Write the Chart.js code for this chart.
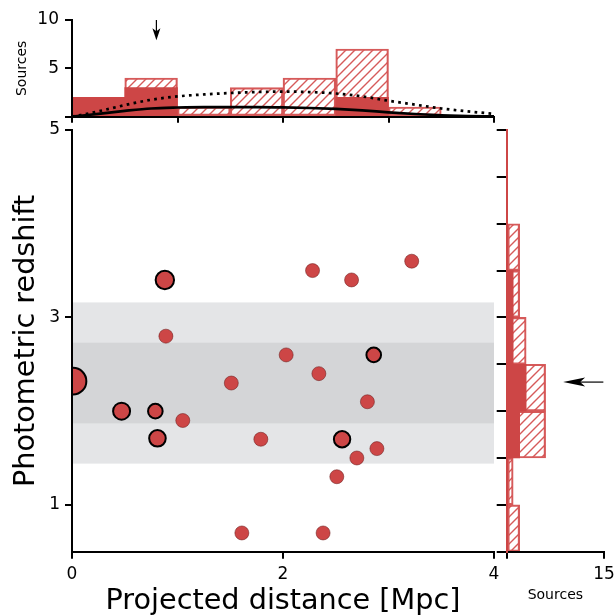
<!DOCTYPE html>
<html><head><meta charset="utf-8">
<script src="https://cdn.jsdelivr.net/npm/chart.js@4.4.0/dist/chart.umd.min.js"></script>
<style>
html,body{margin:0;padding:0;background:#fff;width:615px;height:615px;overflow:hidden}
canvas{position:absolute;left:0;top:0}
</style></head>
<body>
<canvas id="main" width="615" height="615"></canvas>
<canvas id="top" width="615" height="615"></canvas>
<canvas id="right" width="615" height="615"></canvas>
<script>
// ---- data ----
// sources with black outline (selected)
const selDist = [0.88, 2.86, 0.01, 0.47, 0.79, 0.81, 2.56];
const selZ    = [3.40, 2.60, 2.32, 2.00, 2.00, 1.71, 1.70];
// other sources
const othDist = [2.28, 2.65, 3.22, 0.89, 2.03, 1.51, 2.34, 2.80, 1.05, 1.79, 2.89, 2.70, 2.51, 1.61, 2.38];
const othZ    = [3.50, 3.40, 3.60, 2.80, 2.60, 2.30, 2.40, 2.10, 1.90, 1.70, 1.60, 1.50, 1.30, 0.70, 0.70];
// redshift bands (z +/- sigma, +/- 2 sigma)
const innerBand = [1.87, 2.73];
const outerBand = [1.44, 3.16];
// top histogram (distance, bins of 0.5 Mpc)
const distBins = [0.25, 0.75, 1.25, 1.75, 2.25, 2.75, 3.25, 3.75];
const distAll  = [2, 4, 1, 3, 4, 7, 1, 0];
const distSel  = [2, 3, 0, 0, 0, 2, 0, 0];
// top curves
const curveX      = [0, 0.25, 0.5, 0.75, 1.0, 1.25, 1.5, 1.75, 2.0, 2.25, 2.5, 2.75, 3.0, 3.25, 3.5, 3.75, 4.0];
const curveSolid  = [0.0, 0.3, 0.6, 0.85, 0.95, 1.0, 1.0, 1.0, 0.97, 0.9, 0.8, 0.65, 0.45, 0.28, 0.15, 0.07, 0.03];
const curveDotted = [0.0, 0.55, 1.2, 1.75, 2.1, 2.3, 2.45, 2.55, 2.6, 2.55, 2.4, 2.1, 1.65, 1.25, 0.85, 0.55, 0.3];
// right histogram (redshift, bins of 0.5)
const zBins = [0.75, 1.25, 1.75, 2.25, 2.75, 3.25, 3.75, 4.25, 4.75];
const zAll  = [2, 1, 6, 6, 3, 2, 2, 0, 0];
const zSel  = [0, 0, 2, 3, 1, 1, 0, 0, 0];
// arrows
const distArrow = 0.8;
const zArrow = 2.31;
// tick labels
const mainXTicks = [0, 2, 4];
const mainYTicks = [1, 3, 5];
const topXTicks = [0, 1, 2, 3, 4];
const topYTicks = [0, 5, 10];
const rightXTicks = [0, 15];
const rightYTicks = [0.5, 1, 1.5, 2, 2.5, 3, 3.5, 4, 4.5, 5];

// ---- styles ----
const RED = '#cd4646';
const HATCH = 'rgba(210,72,72,0.9)';
const FONT = 'DejaVu Sans';
const TICKSIZE = 17;
const LABELSIZE = 28.7;
const selRadius = [9.2, 7.3, 13.3, 8.5, 7.3, 8.3, 8.2];

function makeHatch(canvasId) {
  const s = 9;
  const c = document.createElement('canvas'); c.width = s; c.height = s;
  const g = c.getContext('2d');
  g.strokeStyle = HATCH; g.lineWidth = 1.4;
  g.beginPath();
  g.moveTo(-1, s + 1); g.lineTo(s + 1, -1);
  g.moveTo(-2, 2); g.lineTo(2, -2);
  g.moveTo(s - 2, s + 2); g.lineTo(s + 2, s - 2);
  g.stroke();
  return document.getElementById(canvasId).getContext('2d').createPattern(c, 'repeat');
}
function tickList(arr) { return s => { s.ticks = arr.map(v => ({value: v})); }; }
const base = {responsive: false, animation: false, devicePixelRatio: 1,
  plugins: {legend: {display: false}, tooltip: {enabled: false}}};

const bandPlugin = {
  id: 'bands',
  beforeDatasetsDraw(chart) {
    const {ctx, scales: {x, y}} = chart;
    const l = x.getPixelForValue(0), r = x.getPixelForValue(4);
    ctx.save();
    [[outerBand, '#e4e5e7'], [innerBand, '#d4d5d7']].forEach(([b, col]) => {
      const t = y.getPixelForValue(b[1]), bt = y.getPixelForValue(b[0]);
      ctx.fillStyle = col; ctx.fillRect(l, t, r - l, bt - t);
    });
    ctx.restore();
  }
};

// ---- main scatter ----
new Chart(document.getElementById('main'), {
  type: 'scatter',
  data: {datasets: [
    {data: selDist.map((x, i) => ({x, y: selZ[i]})), backgroundColor: RED, borderColor: '#000',
     borderWidth: 2, pointRadius: selRadius, clip: 0},
    {data: othDist.map((x, i) => ({x, y: othZ[i]})), backgroundColor: RED, borderColor: 'rgba(110,30,30,0.55)',
     borderWidth: 1, pointRadius: 7, clip: 0}
  ]},
  options: Object.assign({}, base, {
    layout: {padding: {left: 0, top: 130, right: 121, bottom: 0}},
    scales: {
      x: {type: 'linear', min: 0, max: 4, afterBuildTicks: tickList(mainXTicks),
        afterFit: s => { s.height = 63.3; s.paddingLeft = 0; s.paddingRight = 0; },
        grid: {drawOnChartArea: false, drawTicks: true, tickLength: 7, color: '#000', lineWidth: 2},
        border: {display: true, color: '#000', width: 2, z: 1},
        ticks: {font: {family: FONT, size: TICKSIZE}, color: '#000', padding: 6, maxRotation: 0, autoSkip: false},
        title: {display: true, text: 'Projected distance [Mpc]', font: {family: FONT, size: LABELSIZE}, color: '#000', padding: {top: 0, bottom: -4}}
      },
      y: {type: 'linear', min: 0.5, max: 5, afterBuildTicks: tickList(mainYTicks),
        afterFit: s => { s.width = 72; s.paddingTop = 0; s.paddingBottom = 0; },
        grid: {drawOnChartArea: false, drawTicks: true, tickLength: 7, color: '#000', lineWidth: 2},
        border: {display: true, color: '#000', width: 2, z: 1},
        ticks: {font: {family: FONT, size: TICKSIZE}, color: '#000', padding: 5, autoSkip: false},
        title: {display: true, text: 'Photometric redshift', font: {family: FONT, size: LABELSIZE}, color: '#000', padding: {top: 9, bottom: 0}}
      }
    }
  }),
  plugins: [bandPlugin]
});

// ---- top histogram ----
const topArrowPlugin = {
  id: 'topArrow',
  afterDraw(chart) {
    const {ctx, scales: {x, y}} = chart;
    const px = x.getPixelForValue(distArrow);
    const y1 = y.getPixelForValue(10), y2 = y.getPixelForValue(7.9);
    ctx.save();
    ctx.strokeStyle = '#000'; ctx.fillStyle = '#000'; ctx.lineWidth = 1.2;
    ctx.beginPath(); ctx.moveTo(px, y1); ctx.lineTo(px, y2 - 8); ctx.stroke();
    ctx.beginPath(); ctx.moveTo(px, y2); ctx.lineTo(px - 4, y2 - 12); ctx.lineTo(px, y2 - 9); ctx.lineTo(px + 4, y2 - 12); ctx.closePath(); ctx.fill();
    ctx.restore();
  }
};
const topHatch = makeHatch('top');
new Chart(document.getElementById('top'), {
  type: 'bar',
  data: {datasets: [
    {type: 'line', data: curveX.map((x, i) => ({x, y: curveSolid[i]})), borderColor: '#000', borderWidth: 2.7,
     pointRadius: 0, tension: 0.4, cubicInterpolationMode: 'monotone', fill: false},
    {type: 'line', data: curveX.map((x, i) => ({x, y: curveDotted[i]})), borderColor: '#000', borderWidth: 2.7,
     borderDash: [2.7, 4.3], pointRadius: 0, tension: 0.4, cubicInterpolationMode: 'monotone', fill: false},
    {data: distBins.map((x, i) => ({x, y: distSel[i]})), backgroundColor: RED, borderWidth: 0,
     grouped: false, barPercentage: 1, categoryPercentage: 1},
    {data: distBins.map((x, i) => ({x, y: distAll[i]})), backgroundColor: topHatch, borderColor: HATCH,
     borderWidth: 1.5, borderSkipped: false, grouped: false, barPercentage: 1, categoryPercentage: 1}
  ]},
  options: Object.assign({}, base, {
    layout: {padding: {left: 0, top: 20, right: 121, bottom: 615 - 116.7 - 10}},
    scales: {
      x: {type: 'linear', min: 0, max: 4, offset: false, afterBuildTicks: tickList(topXTicks),
        afterFit: s => { s.height = 10; s.paddingLeft = 0; s.paddingRight = 0; },
        grid: {offset: false, drawOnChartArea: false, drawTicks: true, tickLength: 6, color: '#000', lineWidth: 2},
        border: {display: true, color: '#000', width: 2, z: 1},
        ticks: {display: false}
      },
      y: {type: 'linear', min: 0, max: 10, afterBuildTicks: tickList(topYTicks),
        afterFit: s => { s.width = 72; s.paddingTop = 0; s.paddingBottom = 0; },
        grid: {drawOnChartArea: false, drawTicks: true, tickLength: 7, color: '#000', lineWidth: 2},
        border: {display: true, color: '#000', width: 2, z: 1},
        ticks: {font: {family: FONT, size: TICKSIZE}, color: '#000', padding: 6, autoSkip: false,
          callback: v => v === 0 ? '' : String(v)},
        title: {display: true, text: 'Sources', font: {family: FONT, size: 14}, color: '#000', padding: {top: 13.5, bottom: 0}}
      }
    }
  }),
  plugins: [topArrowPlugin]
});

// ---- right histogram ----
const rightArrowPlugin = {
  id: 'rightArrow',
  afterDraw(chart) {
    const {ctx, scales: {x, y}} = chart;
    const py = y.getPixelForValue(zArrow);
    const x1 = x.getPixelForValue(14.9), x2 = x.getPixelForValue(8.7);
    ctx.save();
    ctx.strokeStyle = '#000'; ctx.fillStyle = '#000'; ctx.lineWidth = 1.2;
    ctx.beginPath(); ctx.moveTo(x1, py); ctx.lineTo(x2 + 15, py); ctx.stroke();
    ctx.beginPath(); ctx.moveTo(x2, py); ctx.lineTo(x2 + 22, py - 4.5); ctx.lineTo(x2 + 17, py); ctx.lineTo(x2 + 22, py + 4.5); ctx.closePath(); ctx.fill();
    ctx.restore();
  }
};
const rightHatch = makeHatch('right');
new Chart(document.getElementById('right'), {
  type: 'bar',
  data: {datasets: [
    {data: zBins.map((y, i) => ({x: zSel[i], y})), backgroundColor: RED, borderWidth: 0,
     grouped: false, barPercentage: 1, categoryPercentage: 1},
    {data: zBins.map((y, i) => ({x: zAll[i], y})), backgroundColor: rightHatch, borderColor: HATCH,
     borderWidth: 1.5, borderSkipped: false, grouped: false, barPercentage: 1, categoryPercentage: 1}
  ]},
  options: Object.assign({}, base, {
    indexAxis: 'y',
    layout: {padding: {left: 496.7, top: 130, right: 11, bottom: 0}},
    scales: {
      x: {type: 'linear', min: 0, max: 15, afterBuildTicks: tickList(rightXTicks),
        afterFit: s => { s.height = 63.3; s.paddingLeft = 0; s.paddingRight = 0; },
        grid: {drawOnChartArea: false, drawTicks: true, tickLength: 7, color: '#000', lineWidth: 2},
        border: {display: true, color: '#000', width: 2, z: 1},
        ticks: {font: {family: FONT, size: TICKSIZE}, color: '#000', padding: 6, maxRotation: 0, autoSkip: false,
          callback: v => v === 15 ? '15' : ''},
        title: {display: true, text: 'Sources', font: {family: FONT, size: 14}, color: '#000', padding: {top: 0, bottom: 11}}
      },
      y: {type: 'linear', min: 0.5, max: 5, offset: false, afterBuildTicks: tickList(rightYTicks),
        afterFit: s => { s.width = 10; s.paddingTop = 0; s.paddingBottom = 0; },
        grid: {offset: false, drawOnChartArea: false, drawTicks: true, tickLength: 10, color: '#000', lineWidth: 2},
        border: {display: true, color: RED, width: 2, z: 1},
        ticks: {display: false}
      }
    }
  }),
  plugins: [rightArrowPlugin]
});
</script>
</body></html>
